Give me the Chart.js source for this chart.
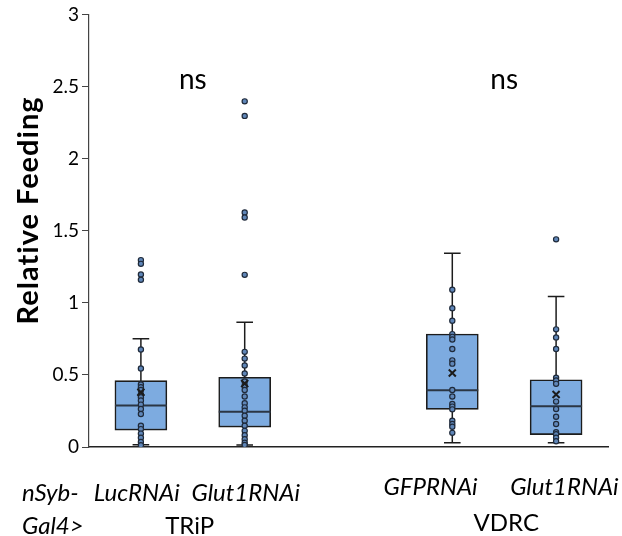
<!DOCTYPE html>
<html>
<head>
<meta charset="utf-8">
<script src="https://cdn.jsdelivr.net/npm/chart.js@4/dist/chart.umd.min.js"></script>
<style>
  html, body { margin: 0; padding: 0; background: #fff; }
  #wrap { width: 622px; height: 536px; }
</style>
</head>
<body>
<div id="wrap"><canvas id="chart"></canvas></div>
<script>
// group positions on the x axis and their names
const positions = [0.5, 1.5, 3.5, 4.5];
const groupNames = ['LucRNAi', 'Glut1RNAi', 'GFPRNAi', 'Glut1RNAi'];

// box stats
const whiskerLow  = [0.015, 0.014, 0.03, 0.03];
const quartile1   = [0.117, 0.138, 0.261, 0.086];
const medians     = [0.287, 0.245, 0.394, 0.282];
const quartile3   = [0.46, 0.483, 0.783, 0.466];
const whiskerHigh = [0.75, 0.865, 1.343, 1.044];
const means       = [0.38, 0.44, 0.513, 0.364];

// individual flies
const lucPoints = [1.296, 1.27, 1.196, 1.16, 0.676, 0.545, 0.434, 0.415, 0.396, 0.364, 0.345, 0.322, 0.294, 0.264, 0.229, 0.147, 0.124, 0.093, 0.065, 0.035, 0.012];
const tripGlutPoints = [2.397, 2.296, 1.627, 1.592, 1.194, 0.66, 0.613, 0.566, 0.51, 0.455, 0.427, 0.396, 0.35, 0.303, 0.275, 0.252, 0.217, 0.182, 0.147, 0.112, 0.082, 0.054, 0.03, 0.014];
const gfpPoints = [1.09, 0.963, 0.876, 0.783, 0.764, 0.746, 0.68, 0.601, 0.578, 0.396, 0.35, 0.298, 0.28, 0.261, 0.182, 0.159, 0.14, 0.098];
const vdrcGlutPoints = [1.44, 0.816, 0.76, 0.68, 0.48, 0.462, 0.438, 0.315, 0.264, 0.21, 0.159, 0.103, 0.089, 0.065, 0.04];
const allPoints = [lucPoints, tripGlutPoints, gfpPoints, vdrcGlutPoints];

const yTicks = [0, 0.5, 1, 1.5, 2, 2.5, 3];

const boxHalf = 0.25;
const capHalf = 0.08;
const dark = '#1c1c1c';
const boxFill = '#7dabe0';

// segments separated by a null point so the line breaks between boxes
const segments = (fn) => {
    const out = [];
    positions.forEach((p, i) => {
        fn(p, i).forEach(pt => out.push(pt));
        out.push({x: p, y: null});
    });
    return out;
}

const whiskerData = segments((p, i) => [{x: p, y: whiskerLow[i]}, {x: p, y: whiskerHigh[i]}]);
const capData = segments((p, i) => [{x: p - capHalf, y: whiskerLow[i]}, {x: p + capHalf, y: whiskerLow[i]}])
    .concat(segments((p, i) => [{x: p - capHalf, y: whiskerHigh[i]}, {x: p + capHalf, y: whiskerHigh[i]}]));
const medianData = segments((p, i) => [{x: p - boxHalf, y: medians[i]}, {x: p + boxHalf, y: medians[i]}]);
const boxData = positions.map((p, i) => ({x: p, y: [quartile1[i], quartile3[i]]}));
const meanData = positions.map((p, i) => ({x: p, y: means[i]}));
const pointData = [];
allPoints.forEach((arr, i) => arr.forEach(v => pointData.push({x: positions[i], y: v})));

const textPlugin = {
    id: 'texts',
    afterDraw(chart) {
        const {ctx, chartArea} = chart;
        const xs = chart.scales.x;
        const ys = chart.scales.y;
        ctx.save();
        ctx.fillStyle = '#000';

        // ns labels
        ctx.font = '28px Lato';
        ctx.textAlign = 'center';
        ctx.textBaseline = 'alphabetic';
        ctx.fillText('ns', xs.getPixelForValue(1), ys.getPixelForValue(2.48));
        ctx.fillText('ns', xs.getPixelForValue(4), ys.getPixelForValue(2.48));

        // y title
        ctx.save();
        ctx.translate(29, chartArea.top + 196);
        ctx.rotate(-Math.PI / 2);
        ctx.font = 'bold 29px Lato';
        ctx.letterSpacing = '1px';
        ctx.textBaseline = 'middle';
        ctx.fillText('Relative Feeding', 0, 0);
        ctx.restore();

        // bottom labels
        const b = chartArea.bottom;
        ctx.font = 'italic 24px Lato';
        ctx.textBaseline = 'middle';
        ctx.textAlign = 'left';
        ctx.fillText('nSyb-', 22, b + 46);
        ctx.fillText('Gal4>', 22, b + 79);
        ctx.textAlign = 'center';
        ctx.fillText(groupNames[0], xs.getPixelForValue(0.46), b + 46);
        ctx.fillText(groupNames[1], xs.getPixelForValue(1.51), b + 46);
        ctx.fillText(groupNames[2], xs.getPixelForValue(3.29), b + 40);
        ctx.fillText(groupNames[3], xs.getPixelForValue(4.58), b + 40);
        ctx.font = '24px Lato';
        ctx.fillText('TRiP', xs.getPixelForValue(0.97), b + 79);
        ctx.fillText('VDRC', xs.getPixelForValue(4.02), b + 76);
        ctx.restore();
    }
};

const ctx = document.getElementById('chart').getContext('2d');
const chart = new Chart(ctx, {
    type: 'bar',
    data: {
        datasets: [
            {
                type: 'scatter',
                data: meanData,
                pointStyle: 'crossRot',
                pointRadius: 5,
                borderColor: dark,
                borderWidth: 2,
                order: 0
            },
            {
                type: 'scatter',
                data: pointData,
                pointRadius: 2.6,
                backgroundColor: '#5f86b8',
                borderColor: '#1f2a3a',
                borderWidth: 1.2,
                order: 1
            },
            {
                type: 'line',
                data: medianData,
                borderColor: '#2b3644',
                borderWidth: 2,
                pointRadius: 0,
                spanGaps: false,
                order: 2
            },
            {
                type: 'bar',
                data: boxData,
                backgroundColor: boxFill,
                borderColor: dark,
                borderWidth: 1.6,
                borderSkipped: false,
                barThickness: 52,
                order: 3
            },
            {
                type: 'line',
                data: whiskerData,
                borderColor: dark,
                borderWidth: 1.5,
                pointRadius: 0,
                spanGaps: false,
                order: 4
            },
            {
                type: 'line',
                data: capData,
                borderColor: dark,
                borderWidth: 1.5,
                pointRadius: 0,
                spanGaps: false,
                order: 5
            }
        ]
    },
    options: {
        responsive: true,
        maintainAspectRatio: false,
        animation: false,
        events: [],
        layout: { padding: { top: 12, right: 14, bottom: 81, left: 0 } },
        plugins: { legend: { display: false }, tooltip: { enabled: false } },
        scales: {
            x: {
                type: 'linear',
                min: 0,
                max: 5,
                offset: false,
                grid: { display: false },
                border: { display: true, color: '#222', width: 1.5 },
                ticks: { display: false }
            },
            y: {
                min: 0,
                max: 3,
                afterBuildTicks: (scale) => { scale.ticks = yTicks.map(v => ({value: v})); },
                afterFit: (scale) => { scale.width = 89; },
                grid: { display: true, drawOnChartArea: false, tickLength: 7, color: '#444' },
                border: { display: true, color: '#444', width: 1.2 },
                ticks: { color: '#000', font: { family: 'Lato', size: 19 }, padding: 3, callback: (v) => String(v) }
            }
        }
    },
    plugins: [textPlugin]
});
</script>
</body>
</html>
